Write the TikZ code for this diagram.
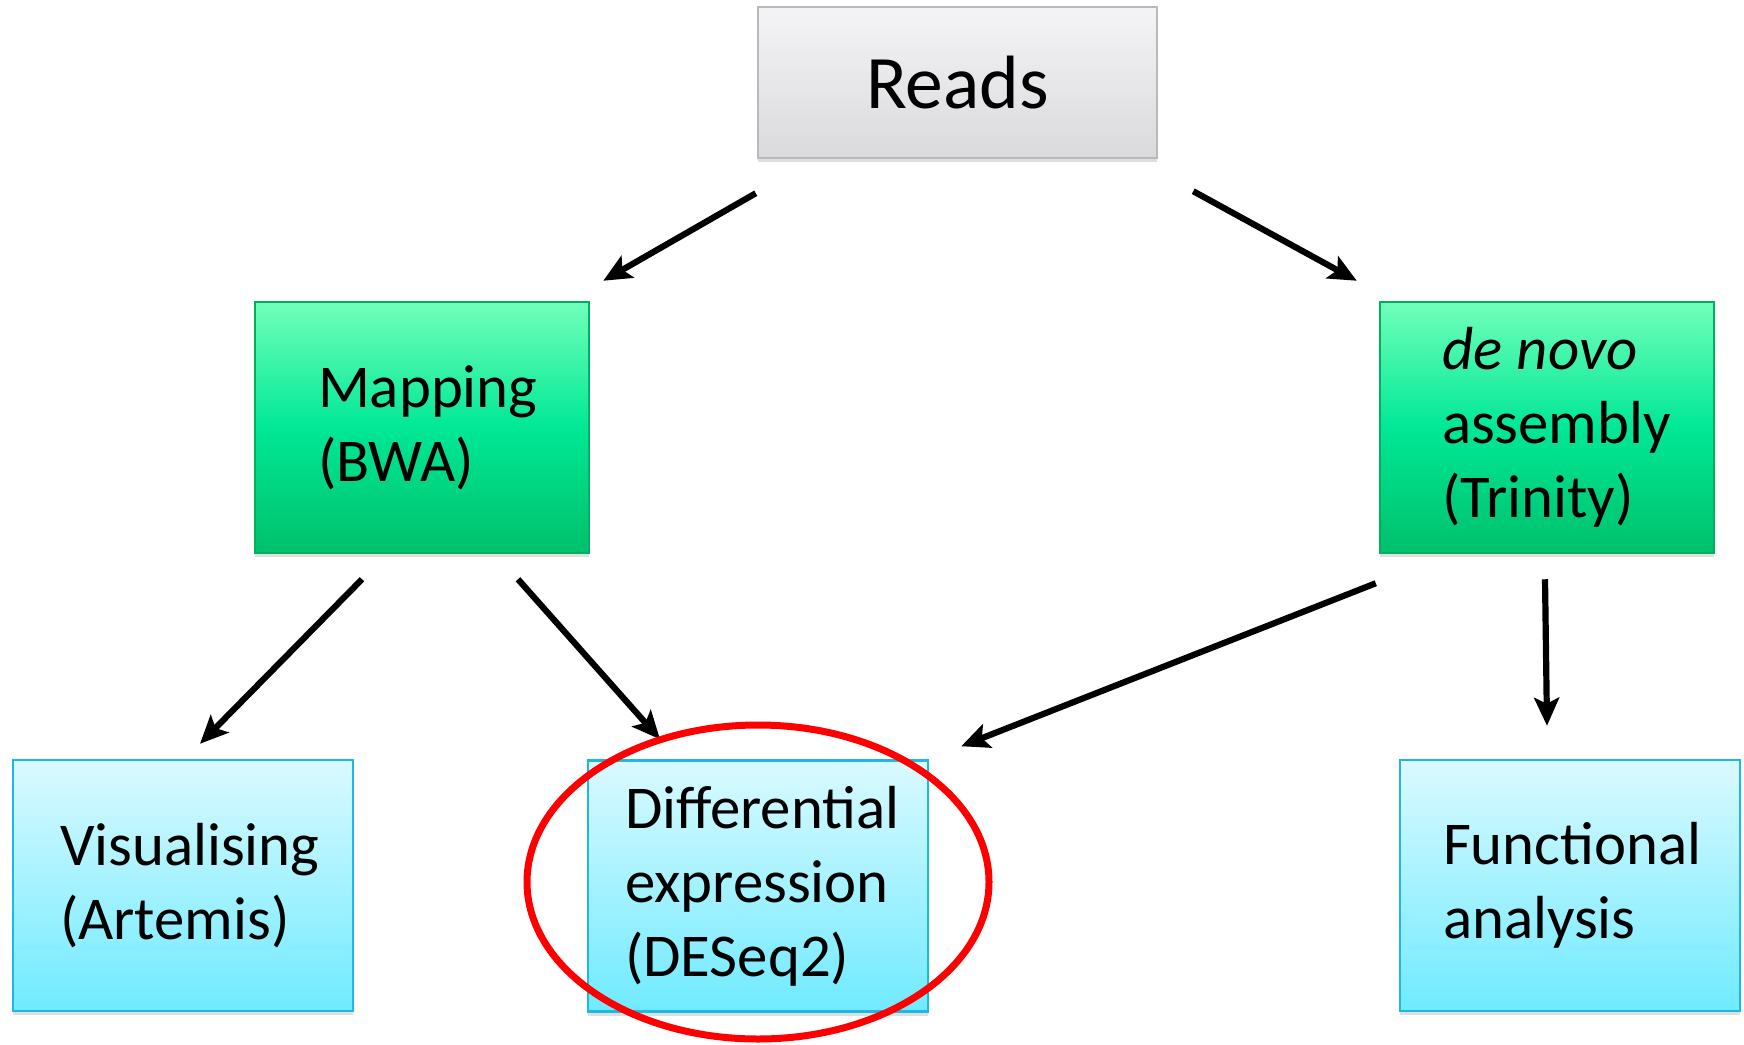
\documentclass[tikz,border=0pt]{standalone}
\usepackage{fontspec}
\setmainfont{Carlito}
\usepackage{xcolor}
\usetikzlibrary{arrows.meta, shadows}

\definecolor{readsTop}{RGB}{244,244,246}
\definecolor{readsBot}{RGB}{218,218,220}
\definecolor{readsLine}{RGB}{185,185,185}
\definecolor{greenTop}{RGB}{114,255,186}
\definecolor{greenMid}{RGB}{0,232,150}
\definecolor{greenBot}{RGB}{0,192,108}
\definecolor{greenLine}{RGB}{0,176,92}
\definecolor{cyanTop}{RGB}{218,250,255}
\definecolor{cyanBot}{RGB}{112,234,255}
\definecolor{cyanLine}{RGB}{30,185,225}

\tikzset{
  box/.style={draw, line width=0.025cm, minimum height=2.51cm,
    align=left, inner ysep=0pt,
    font=\fontsize{17.3}{21}\selectfont,
    drop shadow={shadow xshift=0pt, shadow yshift=-0.04cm, opacity=0.25}},
  readsbox/.style={box, draw=readsLine, top color=readsTop, bottom color=readsBot,
    minimum width=3.99cm, minimum height=1.51cm, align=center,
    font=\fontsize{21.5}{26}\selectfont},
  toolbox/.style={box, draw=greenLine, top color=greenTop, bottom color=greenBot,
    middle color=greenMid},
  taskbox/.style={box, draw=cyanLine, top color=cyanTop, bottom color=cyanBot},
  arr/.style={-{Stealth[length=0.28cm, width=0.25cm, inset=0.06cm]}, line width=0.062cm},
}

\begin{document}
\begin{tikzpicture}
  \useasboundingbox (0, 0) rectangle (17.44, 10.44);

  % Input
  \node[readsbox] (reads) at (9.575, 9.615) {Reads};

  % Middle row
  \node[toolbox, inner xsep=0.63cm, text width=2.08cm] (map) at (4.22, 6.165)
    {Mapping\\(BWA)};
  \node[toolbox, inner xsep=0.62cm, text width=2.10cm] (denovo) at (15.47, 6.165)
    {{\itshape de\kern0.24em novo}\\assembly\\(Trinity)};

  % Bottom row
  \node[taskbox, inner xsep=0.47cm, text width=2.46cm] (vis) at (1.83, 1.585)
    {Visualising\\(Artemis)};
  \node[taskbox, inner xsep=0.37cm, text width=2.66cm] (de) at (7.58, 1.58)
    {Differential\\expression\\(DESeq2)};
  \node[taskbox, inner xsep=0.43cm, text width=2.54cm] (func) at (15.70, 1.585)
    {Functional\\analysis};

  % Arrows
  \draw[arr] ([shift={(-0.01,-0.34)}]reads.south west) -- ([shift={(0.13,0.20)}]map.north east);
  \draw[arr] ([shift={(0.35,-0.32)}]reads.south east) -- ([shift={(-0.22,0.20)}]denovo.north west);
  \draw[arr] ([shift={(-0.60,-0.25)}]map.south) -- ([shift={(0.17,0.15)}]vis.north);
  \draw[arr] ([shift={(0.96,-0.25)}]map.south) -- ([shift={(-0.98,0.20)}]de.north);
  \draw[arr] ([shift={(-0.03,-0.29)}]denovo.south west) -- ([shift={(0.32,0.13)}]de.north east);
  \draw[arr] ([shift={(-0.02,-0.25)}]denovo.south) -- ([shift={(-0.23,0.33)}]func.north);

  % Highlight
  \draw[red, line width=0.07cm] ([yshift=0.04cm]de.center) ellipse [x radius=2.31, y radius=1.57];
\end{tikzpicture}
\end{document}
